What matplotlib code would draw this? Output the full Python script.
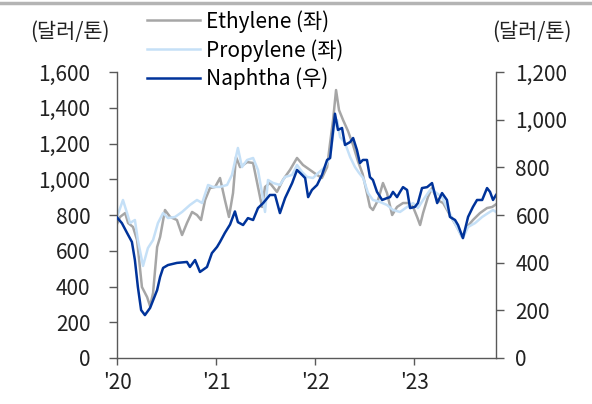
import matplotlib
matplotlib.use("Agg")
import matplotlib.pyplot as plt
import matplotlib.dates as mdates
from matplotlib.lines import Line2D
import pandas as pd

plt.rcParams['font.family'] = ['Noto Sans CJK KR', 'DejaVu Sans']

# Ethylene (left axis, $/ton)
eth_dates = ["2020-01-01", "2020-01-12", "2020-01-31", "2020-02-11", "2020-02-29", "2020-03-15",
             "2020-04-02", "2020-04-21", "2020-05-02", "2020-05-13", "2020-05-28", "2020-06-08",
             "2020-06-26", "2020-07-15", "2020-08-09", "2020-08-28", "2020-09-15", "2020-10-04",
             "2020-10-22", "2020-11-06", "2020-11-21", "2020-12-09", "2020-12-28", "2021-01-15",
             "2021-02-02", "2021-02-17", "2021-03-04", "2021-03-15", "2021-03-30", "2021-04-25",
             "2021-05-17", "2021-06-04", "2021-06-19", "2021-06-30", "2021-07-18", "2021-08-13",
             "2021-09-04", "2021-09-30", "2021-10-26", "2021-11-17", "2021-12-13", "2022-01-08",
             "2022-01-26", "2022-02-14", "2022-02-25", "2022-03-08", "2022-03-19", "2022-03-30",
             "2022-04-14", "2022-05-02", "2022-05-21", "2022-06-08", "2022-06-25", "2022-07-10",
             "2022-07-22", "2022-08-02", "2022-08-21", "2022-09-08", "2022-09-23", "2022-10-12",
             "2022-10-30", "2022-11-21", "2022-12-10", "2022-12-28", "2023-01-12", "2023-01-23",
             "2023-02-03", "2023-02-21", "2023-03-08", "2023-03-27", "2023-04-18", "2023-05-13",
             "2023-06-08", "2023-06-27", "2023-07-15", "2023-08-06", "2023-09-01", "2023-09-27",
             "2023-10-16", "2023-10-30"]
eth_vals = [750, 789, 811, 755, 733, 660,
            397, 341, 290, 364, 621, 677,
            828, 789, 772, 688, 755, 817,
            800, 772, 884, 951, 957, 1007,
            884, 789, 923, 1124, 1068, 1096,
            1091, 957, 845, 957, 979, 929,
            996, 1052, 1119, 1080, 1052, 1024,
            1007, 1068, 1203, 1331, 1499, 1387,
            1331, 1270, 1190, 1100, 1030, 930,
            845, 828, 884, 979, 923, 800,
            845, 867, 867, 845, 789, 744,
            811, 901, 951, 884, 867, 800,
            733, 677, 733, 772, 811, 839,
            845, 860]

# Propylene (left axis, $/ton)
pro_dates = ["2020-01-01", "2020-01-23", "2020-02-07", "2020-02-18", "2020-03-07", "2020-03-18",
             "2020-04-06", "2020-04-24", "2020-05-13", "2020-05-31", "2020-06-19", "2020-07-07",
             "2020-08-02", "2020-08-28", "2020-09-26", "2020-10-22", "2020-11-10", "2020-12-02",
             "2020-12-20", "2021-01-15", "2021-02-10", "2021-02-28", "2021-03-22", "2021-04-06",
             "2021-04-25", "2021-05-17", "2021-06-04", "2021-06-19", "2021-06-30", "2021-07-11",
             "2021-07-30", "2021-08-24", "2021-09-12", "2021-10-08", "2021-10-26", "2021-11-14",
             "2021-12-02", "2021-12-24", "2022-01-12", "2022-02-06", "2022-02-25", "2022-03-12",
             "2022-03-23", "2022-04-03", "2022-04-21", "2022-05-10", "2022-05-28", "2022-06-12",
             "2022-06-27", "2022-07-15", "2022-08-02", "2022-08-28", "2022-09-23", "2022-10-15",
             "2022-11-10", "2022-12-06", "2022-12-28", "2023-01-15", "2023-02-03", "2023-03-01",
             "2023-03-19", "2023-04-14", "2023-05-06", "2023-05-25", "2023-06-19", "2023-06-30",
             "2023-07-19", "2023-08-14", "2023-09-09", "2023-10-01", "2023-10-19", "2023-10-30"]
pro_vals = [789, 884, 811, 755, 772, 660,
            515, 615, 660, 755, 811, 783,
            789, 817, 856, 884, 867, 968,
            957, 957, 968, 1024, 1175, 1068,
            1108, 1119, 1052, 923, 817, 996,
            979, 968, 1013, 1024, 1080, 1040,
            1013, 1007, 1035, 1068, 1124, 1292,
            1331, 1236, 1203, 1124, 1068, 1035,
            1007, 923, 884, 873, 856, 828,
            817, 845, 867, 839, 884, 940,
            929, 901, 828, 772, 699, 671,
            733, 755, 789, 811, 828, 817]

# Naphtha (right axis, $/ton)
nap_dates = ["2020-01-01", "2020-01-19", "2020-02-07", "2020-02-25", "2020-03-07", "2020-03-18",
             "2020-03-30", "2020-04-13", "2020-05-02", "2020-05-28", "2020-06-08", "2020-06-19",
             "2020-07-07", "2020-08-09", "2020-09-15", "2020-09-26", "2020-10-15", "2020-11-02",
             "2020-11-28", "2020-12-16", "2021-01-04", "2021-01-15", "2021-02-02", "2021-02-21",
             "2021-03-11", "2021-03-22", "2021-04-10", "2021-04-28", "2021-05-17", "2021-06-04",
             "2021-06-23", "2021-07-18", "2021-08-06", "2021-08-24", "2021-09-12", "2021-10-08",
             "2021-10-26", "2021-11-14", "2021-11-25", "2021-12-06", "2021-12-20", "2022-01-08",
             "2022-01-26", "2022-02-14", "2022-02-25", "2022-03-15", "2022-03-26", "2022-04-10",
             "2022-04-21", "2022-05-10", "2022-05-21", "2022-06-04", "2022-06-15", "2022-06-26",
             "2022-07-11", "2022-07-22", "2022-08-02", "2022-08-17", "2022-09-05", "2022-09-23",
             "2022-10-04", "2022-10-15", "2022-10-30", "2022-11-10", "2022-11-21", "2022-12-06",
             "2022-12-17", "2023-01-04", "2023-01-15", "2023-01-30", "2023-02-18", "2023-03-08",
             "2023-03-27", "2023-04-14", "2023-05-02", "2023-05-13", "2023-06-01", "2023-06-12",
             "2023-06-30", "2023-07-19", "2023-08-06", "2023-08-21", "2023-09-09", "2023-09-27",
             "2023-10-08", "2023-10-19", "2023-10-30"]
nap_vals = [590, 566, 525, 487, 411, 298,
            201, 180, 210, 285, 340, 378,
            390, 399, 403, 382, 411, 361,
            382, 440, 466, 487, 525, 560,
            615, 570, 558, 587, 579, 629,
            650, 684, 684, 608, 671, 734,
            789, 768, 755, 675, 705, 726,
            768, 831, 839, 1025, 957, 965,
            894, 906, 923, 873, 818, 831,
            831, 759, 747, 697, 663, 671,
            675, 697, 675, 697, 717, 705,
            629, 634, 650, 713, 717, 734,
            650, 692, 663, 592, 579, 558,
            503, 592, 634, 663, 663, 713,
            697, 663, 684]

left_ticks = [0, 200, 400, 600, 800, 1000, 1200, 1400, 1600]
right_ticks = [0, 200, 400, 600, 800, 1000, 1200]
year_ticks = ["2020-01-01", "2021-01-01", "2022-01-01", "2023-01-01"]
year_labels = ["'20", "'21", "'22", "'23"]

spine_col = "#595959"
fs = 15

fig = plt.figure(figsize=(5.92, 4.04), dpi=100)
ax = fig.add_axes([117 / 592, 1 - 358 / 404, 379 / 592, 286 / 404])
ax2 = ax.twinx()

l1, = ax.plot(pd.to_datetime(eth_dates), eth_vals, color="#a6a6a6", lw=1.8, label="Ethylene (좌)")
l2, = ax.plot(pd.to_datetime(pro_dates), pro_vals, color="#c5e0f7", lw=1.8, label="Propylene (좌)")
l3, = ax2.plot(pd.to_datetime(nap_dates), nap_vals, color="#00339a", lw=1.8, label="Naphtha (우)")

ax.set_ylim(0, 1600)
ax2.set_ylim(0, 1200)
ax.set_yticks(left_ticks)
ax2.set_yticks(right_ticks)
ax.set_yticklabels([f"{v:,}" for v in left_ticks])
ax2.set_yticklabels([f"{v:,}" for v in right_ticks])
ax.set_xlim(pd.Timestamp("2020-01-01"), pd.Timestamp("2023-10-30"))
ax.set_xticks(pd.to_datetime(year_ticks))
ax.set_xticklabels(year_labels)

for a in (ax, ax2):
    a.spines["top"].set_visible(False)
    for s in a.spines.values():
        s.set_color(spine_col)
        s.set_linewidth(1.0)
ax.spines["right"].set_visible(False)
ax2.spines["left"].set_visible(False)
ax2.spines["bottom"].set_visible(False)

ax.tick_params(axis="y", direction="out", length=6, width=1, color=spine_col,
               labelsize=fs, pad=13, labelcolor="#222222")
ax2.tick_params(axis="y", direction="out", length=6, width=1, color=spine_col,
                labelsize=fs, pad=8, labelcolor="#222222")
ax.tick_params(axis="x", direction="out", length=5, width=1, color=spine_col,
               labelsize=fs, pad=5, labelcolor="#222222")

fig.text(70 / 592, 1 - 32 / 404, "(달러/톤)", ha="center", va="center", fontsize=fs, color="#222222")
fig.text(532 / 592, 1 - 32 / 404, "(달러/톤)", ha="center", va="center", fontsize=fs, color="#222222")

fig.legend(handles=[l1, l2, l3], loc="upper left", bbox_to_anchor=(147 / 592, 1 - 10 / 404),
           frameon=False, fontsize=fs, handlelength=2.55, handletextpad=0.3,
           labelspacing=0.3, borderpad=0, borderaxespad=0)

fig.add_artist(Line2D([0, 1], [1 - 3 / 404, 1 - 3 / 404], transform=fig.transFigure,
                      color="#b4b4b4", lw=2.5))

fig.savefig("out.png", dpi=100)
